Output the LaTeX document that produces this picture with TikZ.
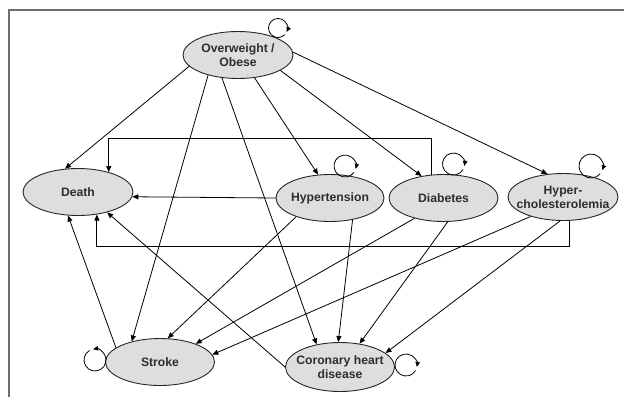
\documentclass[tikz,border=0pt]{standalone}
\usepackage{fontspec}
\setmainfont{Liberation Sans}
\usetikzlibrary{shapes.geometric,arrows.meta,calc}
\definecolor{nodefill}{HTML}{DEDEDE}
\definecolor{txtc}{HTML}{2E2E2E}
\definecolor{framec}{HTML}{6E6E6E}
\begin{document}
\begin{tikzpicture}[x=1pt,y=1pt,
  el/.style={ellipse, draw=black!85, line width=0.9pt, fill=nodefill, inner sep=0pt,
    inner xsep=-12pt, minimum width=110pt, minimum height=47pt,
    font=\fontsize{12.2}{14}\selectfont\bfseries, text=txtc, align=center},
  arr/.style={-{Triangle[length=6pt,width=5pt]}, line width=0.8pt},
  loopc/.style={-{Triangle[length=5pt,width=4.5pt]}, line width=0.8pt}]
\useasboundingbox (0,0) rectangle (624,-397);
\draw[framec, line width=2pt] (9,-397) -- (9,-10) -- (624,-10);

\node[el] (ow) at (238,-55) {Overweight /\\Obese};
\node[el] (death) at (78,-192) {Death};
\node[el, minimum width=108pt] (hyp) at (330,-198) {Hypertension};
\node[el, minimum width=109pt] (dia) at (443.5,-198) {Diabetes};
\node[el] (hc) at (563,-197) {Hyper-\\cholesterolemia};
\node[el, minimum width=109pt] (stroke) at (160,-362) {Stroke};
\node[el, minimum width=109pt, minimum height=49pt] (chd) at (340,-367) {Coronary heart\\disease};

\coordinate (r1) at (0,-138);
\coordinate (r2) at (0,-246);

% from Overweight / Obese
\draw[arr] (ow.-167) -- (death.119);
\draw[arr] (ow.-146) -- (stroke.144);
\draw[arr] (ow.-125) -- (chd.136);
\draw[arr] (ow.-54) -- (hyp.117);
\draw[arr] (ow.-20) -- (dia.135);
\draw[arr] (ow.3) -- (hc.124);

% into Death
\draw[arr] (hyp.west) -- (death.-5);
\draw[arr] (dia.117) -- (dia.117 |- r1) -| (death.33);
\draw[arr] (hc.-74) -- (hc.-74 |- r2) -| (death.-50);
\draw[arr] (stroke.162) -- (death.-113);
\draw[arr] (chd.west) -- (death.-35);

% into Stroke
\draw[arr] (hyp.-151) -- (stroke.72);
\draw[arr] (dia.-145) -- (stroke.27);
\draw[arr] (hc.-149) -- (stroke.8);

% into Coronary heart disease
\draw[arr] (hyp.-44) -- (chd.94);
\draw[arr] (dia.-80) -- (chd.50);
\draw[arr] (hc.-97) -- (chd.17);

% self loops
\draw[loopc] ($(ow.center)+(40,27)+(315:9.5)$) arc[start angle=315, end angle=-25, radius=9.5];
\draw[loopc] ($(hyp.center)+(15,32)+(325:11)$) arc[start angle=325, end angle=-15, radius=11];
\draw[loopc] ($(dia.center)+(10,34)+(330:11)$) arc[start angle=330, end angle=-10, radius=11];
\draw[loopc] ($(hc.center)+(28,31)+(320:12)$) arc[start angle=320, end angle=-20, radius=12];
\draw[loopc] ($(chd.center)+(66,2)+(330:11)$) arc[start angle=330, end angle=-10, radius=11];
\draw[loopc] ($(stroke.center)+(-65,2)+(-240:11)$) arc[start angle=-240, end angle=100, radius=11];
\end{tikzpicture}
\end{document}
